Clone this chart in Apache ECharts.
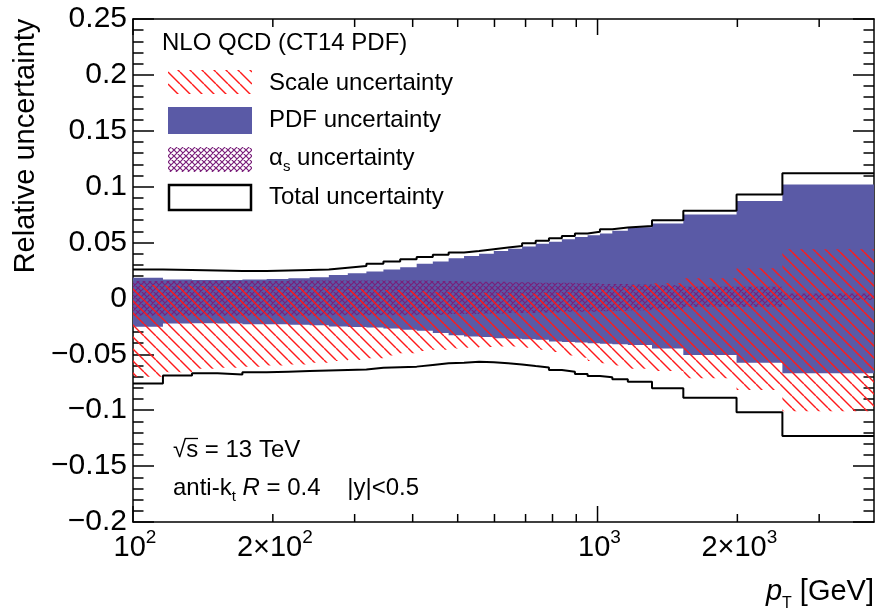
<!DOCTYPE html>
<html>
<head>
<meta charset="utf-8">
<script src="https://cdn.jsdelivr.net/npm/echarts@6/dist/echarts.min.js"></script>
<style>
html, body { margin: 0; padding: 0; background: #fff; }
#chart { width: 878px; height: 611px; }
</style>
</head>
<body>
<div id="chart"></div>
<script>
// pT bin edges [GeV] and relative uncertainties per bin
const binEdges = [100, 116, 134, 152, 172, 194, 216, 240, 264, 290, 318, 346, 376, 408, 442, 478, 516, 556, 598, 642, 688, 736, 786, 838, 894, 952, 1012, 1076, 1162, 1310, 1530, 1992, 2500, 3937];
const totalUp = [0.026, 0.0255, 0.025, 0.0245, 0.0245, 0.025, 0.0255, 0.026, 0.0275, 0.029, 0.031, 0.033, 0.035, 0.037, 0.039, 0.041, 0.0425, 0.044, 0.0455, 0.047, 0.0493, 0.0516, 0.0538, 0.0558, 0.0582, 0.0597, 0.0618, 0.0635, 0.0648, 0.070, 0.0785, 0.0931, 0.112];
const totalDown = [-0.076, -0.069, -0.067, -0.068, -0.066, -0.0655, -0.065, -0.0645, -0.064, -0.0635, -0.062, -0.0615, -0.061, -0.0595, -0.058, -0.0575, -0.0566, -0.057, -0.058, -0.059, -0.0605, -0.0617, -0.064, -0.0656, -0.0676, -0.0694, -0.0706, -0.0724, -0.0745, -0.0804, -0.0888, -0.1019, -0.1231];
const pdfUp = [0.0185, 0.017, 0.0165, 0.0165, 0.017, 0.0175, 0.018, 0.019, 0.021, 0.0225, 0.024, 0.026, 0.028, 0.031, 0.033, 0.036, 0.038, 0.040, 0.0425, 0.0445, 0.0465, 0.049, 0.0507, 0.053, 0.055, 0.0565, 0.058, 0.0605, 0.0636, 0.067, 0.0752, 0.0871, 0.102];
const pdfDown = [-0.0253, -0.0225, -0.0223, -0.0225, -0.023, -0.023, -0.0235, -0.024, -0.025, -0.0255, -0.026, -0.027, -0.028, -0.029, -0.031, -0.033, -0.034, -0.0345, -0.0355, -0.036, -0.0365, -0.037, -0.0385, -0.039, -0.0395, -0.040, -0.0405, -0.041, -0.0417, -0.0447, -0.0506, -0.0575, -0.067];
const scaleUp = [0.012, 0.0115, 0.011, 0.0105, 0.0105, 0.010, 0.010, 0.0095, 0.009, 0.0085, 0.008, 0.0075, 0.007, 0.0065, 0.006, 0.0055, 0.005, 0.005, 0.0045, 0.0045, 0.0045, 0.005, 0.005, 0.0055, 0.006, 0.007, 0.008, 0.0095, 0.012, 0.0135, 0.018, 0.027, 0.044];
const scaleDown = [-0.070, -0.066, -0.063, -0.062, -0.061, -0.060, -0.059, -0.0575, -0.056, -0.055, -0.0535, -0.051, -0.049, -0.047, -0.046, -0.0447, -0.044, -0.0435, -0.043, -0.043, -0.044, -0.046, -0.048, -0.051, -0.053, -0.056, -0.058, -0.060, -0.063, -0.065, -0.0715, -0.082, -0.101];
const alphaUp = [0.0155, 0.0155, 0.0155, 0.0155, 0.0155, 0.0155, 0.016, 0.016, 0.016, 0.016, 0.016, 0.016, 0.016, 0.016, 0.0155, 0.0155, 0.015, 0.015, 0.015, 0.0145, 0.0145, 0.014, 0.014, 0.014, 0.0135, 0.0135, 0.013, 0.013, 0.0125, 0.012, 0.0105, 0.0105, 0.0045];
const alphaDown = [-0.0155, -0.0155, -0.0155, -0.0155, -0.0155, -0.0155, -0.0155, -0.0155, -0.015, -0.015, -0.015, -0.015, -0.015, -0.0145, -0.0145, -0.014, -0.014, -0.0135, -0.0135, -0.013, -0.013, -0.0125, -0.0125, -0.012, -0.012, -0.012, -0.0115, -0.011, -0.0105, -0.010, -0.0075, -0.0075, -0.0015];

const xMajorTicks = [100, 1000];
const xMinorTicks = [200, 300, 400, 500, 600, 700, 800, 900, 2000, 3000];
const xLabelValues = [100, 200, 1000, 2000];
const xLabelBases = ["10", "2×10", "10", "2×10"];
const xLabelExps = ["2", "2", "3", "3"];

const X_MIN = 100, X_MAX = 3937, Y_MIN = -0.2, Y_MAX = 0.25;
const FONT = "Liberation Sans, Arial, sans-serif";
const PDF_COLOR = "#5a5aa6";

const makeHatch = (size, color, width, cross) => {
    const c = document.createElement("canvas");
    c.width = size;
    c.height = size;
    const ctx = c.getContext("2d");
    ctx.strokeStyle = color;
    ctx.lineWidth = width;
    ctx.beginPath();
    for (let k = -size; k <= size; k += size) {
        ctx.moveTo(k, 0);
        ctx.lineTo(k + size, size);
        if (cross) {
            ctx.moveTo(k + size, 0);
            ctx.lineTo(k, size);
        }
    }
    ctx.stroke();
    return c;
};
const scalePattern = { image: makeHatch(12, "#ff1a1a", 1.4, false), repeat: "repeat" };
const alphaPattern = { image: makeHatch(6, "#7a1f7a", 1.2, true), repeat: "repeat" };

// stepped band polygon, built through the axes
const bandSeries = (name, lo, hi, fill, z) => ({
    name,
    type: "custom",
    z,
    silent: true,
    animation: false,
    data: [[X_MIN, 0]],
    renderItem: (params, api) => {
        const pts = [];
        for (let i = 0; i < hi.length; i++) {
            pts.push(api.coord([binEdges[i], hi[i]]), api.coord([binEdges[i + 1], hi[i]]));
        }
        for (let i = lo.length - 1; i >= 0; i--) {
            pts.push(api.coord([binEdges[i + 1], lo[i]]), api.coord([binEdges[i], lo[i]]));
        }
        return { type: "polygon", shape: { points: pts }, style: { fill } };
    },
});

const stepData = (vals) => binEdges.map((e, i) => [e, vals[Math.min(i, vals.length - 1)]]);
const outline = (vals) => ({
    type: "line",
    step: "end",
    z: 5,
    silent: true,
    animation: false,
    symbol: "none",
    data: stepData(vals),
    lineStyle: { color: "#000", width: 2 },
});

const tickData = xMajorTicks.map((v) => [v, 1]).concat(xMinorTicks.map((v) => [v, 0]));

const axisCommon = {
    min: X_MIN,
    max: X_MAX,
    axisLine: { onZero: false, lineStyle: { color: "#000", width: 1.5 } },
    axisTick: { show: false },
    axisLabel: { show: false },
    splitLine: { show: false },
};
const yCommon = {
    type: "value",
    min: Y_MIN,
    max: Y_MAX,
    interval: 0.05,
    axisLine: { show: true, onZero: false, lineStyle: { color: "#000", width: 1.5 } },
    axisTick: { show: true, inside: true, length: 21, lineStyle: { color: "#000", width: 1.5 } },
    minorTick: { show: true, splitNumber: 5, length: 10.5, lineStyle: { color: "#000", width: 1.5 } },
    splitLine: { show: false },
};

const chart = echarts.init(document.getElementById("chart"));
chart.setOption({
    animation: false,
    backgroundColor: "#fff",
    grid: { left: 133, right: 4, top: 19, bottom: 89, containLabel: false, outerBoundsMode: "none" },
    xAxis: [
        { type: "log", position: "bottom", ...axisCommon },
        { type: "log", position: "top", ...axisCommon },
    ],
    yAxis: [
        {
            ...yCommon,
            position: "left",
            axisLabel: {
                color: "#000",
                fontSize: 30,
                fontFamily: FONT,
                margin: 6,
                formatter: (v) => {
                    const s = String(Math.abs(+v.toFixed(2)));
                    return v < -1e-9 ? "\u2212" + s : s;
                },
            },
        },
        { ...yCommon, position: "right", axisLabel: { show: false } },
    ],
    series: [
        bandSeries("PDF uncertainty", pdfDown, pdfUp, PDF_COLOR, 2),
        bandSeries("alpha_s uncertainty", alphaDown, alphaUp, alphaPattern, 3),
        bandSeries("Scale uncertainty", scaleDown, scaleUp, scalePattern, 4),
        outline(totalUp),
        outline(totalDown),
        {
            type: "custom",
            z: 10,
            silent: true,
            animation: false,
            data: tickData,
            renderItem: (params, api) => {
                const v = api.value(0);
                const len = api.value(1) === 1 ? 16 : 8;
                const b = api.coord([v, Y_MIN]);
                const t = api.coord([v, Y_MAX]);
                const ls = { stroke: "#000", lineWidth: 1.5 };
                const children = [
                    { type: "line", shape: { x1: b[0], y1: b[1], x2: b[0], y2: b[1] - len }, style: ls },
                    { type: "line", shape: { x1: t[0], y1: t[1], x2: t[0], y2: t[1] + len }, style: ls },
                ];
                const idx = xLabelValues.indexOf(v);
                if (idx >= 0) {
                    children.push({
                        type: "text",
                        x: b[0] + 2,
                        y: b[1] + 26,
                        style: {
                            text: "{n|" + xLabelBases[idx] + "}{e|" + xLabelExps[idx] + "}",
                            align: "center",
                            verticalAlign: "middle",
                            fill: "#000",
                            rich: {
                                n: { fontSize: 29, fontFamily: FONT, lineHeight: 40, verticalAlign: "middle" },
                                e: { fontSize: 19, fontFamily: FONT, lineHeight: 19, verticalAlign: "top" },
                            },
                        },
                    });
                }
                return { type: "group", children };
            },
        },
    ],
    graphic: [
        { type: "text", x: 162, y: 43, style: { text: "NLO QCD (CT14 PDF)", fontSize: 24, fontFamily: FONT, fill: "#000", verticalAlign: "middle" } },
        { type: "rect", shape: { x: 168, y: 70, width: 84, height: 24 }, style: { fill: scalePattern } },
        { type: "text", x: 269, y: 83, style: { text: "Scale uncertainty", fontSize: 24, fontFamily: FONT, fill: "#000", verticalAlign: "middle" } },
        { type: "rect", shape: { x: 168, y: 107, width: 84, height: 27 }, style: { fill: PDF_COLOR } },
        { type: "text", x: 269, y: 120, style: { text: "PDF uncertainty", fontSize: 24, fontFamily: FONT, fill: "#000", verticalAlign: "middle" } },
        { type: "rect", shape: { x: 168, y: 147, width: 84, height: 25 }, style: { fill: alphaPattern } },
        {
            type: "text", x: 269, y: 158,
            style: {
                text: "{m|α}{s|s}{m| uncertainty}", fontFamily: FONT, fill: "#000", verticalAlign: "middle",
                rich: {
                    m: { fontSize: 24, fontFamily: FONT, lineHeight: 32, verticalAlign: "middle" },
                    s: { fontSize: 15, fontFamily: FONT, lineHeight: 15, verticalAlign: "bottom" },
                },
            },
        },
        { type: "rect", shape: { x: 169, y: 185, width: 82, height: 25 }, style: { fill: "#fff", stroke: "#000", lineWidth: 2.5 } },
        { type: "text", x: 269, y: 197, style: { text: "Total uncertainty", fontSize: 24, fontFamily: FONT, fill: "#000", verticalAlign: "middle" } },
        { type: "text", x: 173, y: 450, style: { text: "√s = 13 TeV", fontSize: 24, fontFamily: FONT, fill: "#000", verticalAlign: "middle" } },
        { type: "line", shape: { x1: 185, y1: 438.5, x2: 198, y2: 438.5 }, style: { stroke: "#000", lineWidth: 1.3 } },
        {
            type: "text", x: 173, y: 488,
            style: {
                text: "{m|anti-k}{s|t}{m| }{i|R}{m| = 0.4    |y|<0.5}", fontFamily: FONT, fill: "#000", verticalAlign: "middle",
                rich: {
                    m: { fontSize: 24, fontFamily: FONT, lineHeight: 32, verticalAlign: "middle" },
                    i: { fontSize: 24, fontFamily: FONT, fontStyle: "italic", lineHeight: 32, verticalAlign: "middle" },
                    s: { fontSize: 15, fontFamily: FONT, lineHeight: 15, verticalAlign: "bottom" },
                },
            },
        },
        {
            type: "text", x: 26, y: 146, rotation: Math.PI / 2,
            style: { text: "Relative uncertainty", fontSize: 29, fontFamily: FONT, fill: "#000", align: "center", verticalAlign: "middle" },
        },
        {
            type: "text", x: 874, y: 592,
            style: {
                text: "{i|p}{s|T}{m| [GeV]}", fontFamily: FONT, fill: "#000", align: "right", verticalAlign: "middle",
                rich: {
                    i: { fontSize: 29, fontFamily: FONT, fontStyle: "italic", lineHeight: 40, verticalAlign: "middle" },
                    m: { fontSize: 29, fontFamily: FONT, lineHeight: 40, verticalAlign: "middle" },
                    s: { fontSize: 16, fontFamily: FONT, lineHeight: 16, verticalAlign: "bottom" },
                },
            },
        },
    ],
});
</script>
</body>
</html>
